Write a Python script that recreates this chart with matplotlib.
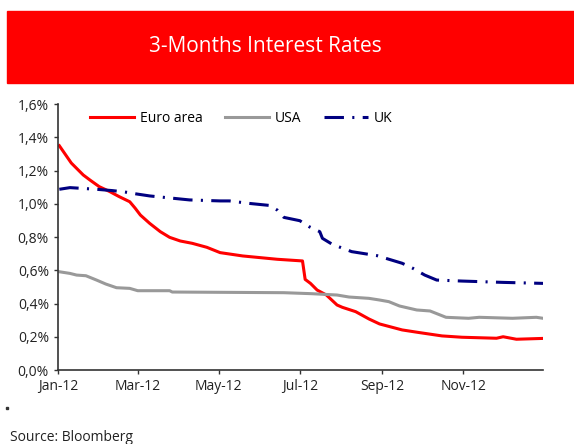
import pandas as pd
import matplotlib
matplotlib.use("Agg")
import matplotlib.pyplot as plt
import matplotlib.dates as mdates
from matplotlib.patches import Rectangle
from matplotlib.ticker import FuncFormatter

plt.rcParams['font.family'] = ['Open Sans', 'DejaVu Sans']
plt.rcParams['lines.scale_dashes'] = False

# a. data (3M rates, % p.a.)
euro_dates = ['2012-01-02', '2012-01-11', '2012-01-20', '2012-01-25', '2012-02-01',
              '2012-02-09', '2012-02-16', '2012-02-24', '2012-02-28', '2012-03-03',
              '2012-03-10', '2012-03-18', '2012-03-25', '2012-04-02', '2012-04-11',
              '2012-04-22', '2012-05-02', '2012-05-19', '2012-06-01', '2012-06-14',
              '2012-07-03', '2012-07-05', '2012-07-09', '2012-07-14', '2012-07-21',
              '2012-07-29', '2012-08-02', '2012-08-12', '2012-08-22', '2012-08-30',
              '2012-09-16', '2012-09-29', '2012-10-16', '2012-10-31', '2012-11-26',
              '2012-12-01', '2012-12-11', '2012-12-31']
euro_vals = [1.349, 1.245, 1.173, 1.143, 1.103, 1.073, 1.043, 1.012, 0.974, 0.932,
             0.882, 0.832, 0.798, 0.776, 0.762, 0.738, 0.706, 0.686, 0.676, 0.666,
             0.656, 0.545, 0.521, 0.481, 0.451, 0.391, 0.377, 0.351, 0.307, 0.277,
             0.241, 0.225, 0.205, 0.197, 0.191, 0.200, 0.185, 0.190]

usa_dates = ['2012-01-02', '2012-01-10', '2012-01-15', '2012-01-22', '2012-01-30',
             '2012-02-06', '2012-02-14', '2012-02-24', '2012-03-01', '2012-03-25',
             '2012-03-27', '2012-06-19', '2012-07-10', '2012-07-29', '2012-08-07',
             '2012-08-22', '2012-08-30', '2012-09-06', '2012-09-14', '2012-09-27',
             '2012-10-07', '2012-10-19', '2012-11-05', '2012-11-13', '2012-12-08',
             '2012-12-26', '2012-12-31']
usa_vals = [0.591, 0.581, 0.571, 0.567, 0.541, 0.517, 0.495, 0.491, 0.477, 0.477,
            0.469, 0.465, 0.459, 0.451, 0.439, 0.431, 0.421, 0.411, 0.385, 0.361,
            0.355, 0.317, 0.311, 0.317, 0.311, 0.317, 0.311]

uk_dates = ['2012-01-02', '2012-01-10', '2012-01-30', '2012-02-11', '2012-02-20',
            '2012-02-29', '2012-03-10', '2012-03-30', '2012-04-09', '2012-05-02',
            '2012-05-09', '2012-05-24', '2012-06-08', '2012-06-14', '2012-06-19',
            '2012-07-01', '2012-07-08', '2012-07-16', '2012-07-18', '2012-07-25',
            '2012-08-01', '2012-08-09', '2012-08-20', '2012-08-28', '2012-09-16',
            '2012-09-24', '2012-10-03', '2012-10-12', '2012-10-31', '2012-12-01',
            '2012-12-31']
uk_vals = [1.087, 1.097, 1.087, 1.079, 1.071, 1.059, 1.047, 1.031, 1.023, 1.017,
           1.017, 1.002, 0.990, 0.962, 0.918, 0.898, 0.862, 0.832, 0.792, 0.758,
           0.736, 0.712, 0.698, 0.688, 0.642, 0.612, 0.571, 0.541, 0.535, 0.527,
           0.521]

# b. figure
fig = plt.figure(figsize=(5.74, 4.44), dpi=100)
fig.patches.append(Rectangle((7/574, 1-83/444), 1-7/574, 72/444,
                             transform=fig.transFigure, color='#FF0000', zorder=0))
fig.text(265/574, 1-47/444, '3-Months Interest Rates', color='white',
         fontsize=15, ha='center', va='center')

ax = fig.add_axes([58/574, 1-370/444, 485/574, 266/444])
ax.plot(pd.to_datetime(euro_dates), euro_vals, color='#FF0000', lw=2.2, label='Euro area')
ax.plot(pd.to_datetime(usa_dates), usa_vals, color='#999999', lw=2.2, label='USA')
ax.plot(pd.to_datetime(uk_dates), uk_vals, color='#000080', lw=2.2,
        linestyle=(0, (14, 6, 1.5, 6)), label='UK')

ax.set_xlim(pd.Timestamp('2012-01-01'), pd.Timestamp('2012-12-31'))
ax.set_ylim(0, 1.6)
ax.set_yticks([0, 0.2, 0.4, 0.6, 0.8, 1.0, 1.2, 1.4, 1.6])
ax.yaxis.set_major_formatter(FuncFormatter(lambda v, p: f'{v:.1f}%'.replace('.', ',')))
ax.xaxis.set_major_locator(mdates.MonthLocator(bymonth=[1, 3, 5, 7, 9, 11]))
ax.xaxis.set_major_formatter(mdates.DateFormatter('%b-%y'))

for s in ['top', 'right']:
    ax.spines[s].set_visible(False)
for s in ['left', 'bottom']:
    ax.spines[s].set_color('#333333')
    ax.spines[s].set_linewidth(1.2)
ax.tick_params(direction='out', length=3, width=1, color='#333333',
               labelsize=10, labelcolor='#222222')

ax.legend(loc='upper left', bbox_to_anchor=(0.04, 1.02), ncol=3, frameon=False,
          fontsize=10, handlelength=3.2, columnspacing=1.6, handletextpad=0.4)

fig.text(10/574, 1-437/444, 'Source: Bloomberg', fontsize=10, color='#222222',
         va='center')
fig.patches.append(Rectangle((6/574, 1-409/444), 2/574, 2/444,
                             transform=fig.transFigure, color='#333333'))

plt.savefig('out.png', dpi=100)
